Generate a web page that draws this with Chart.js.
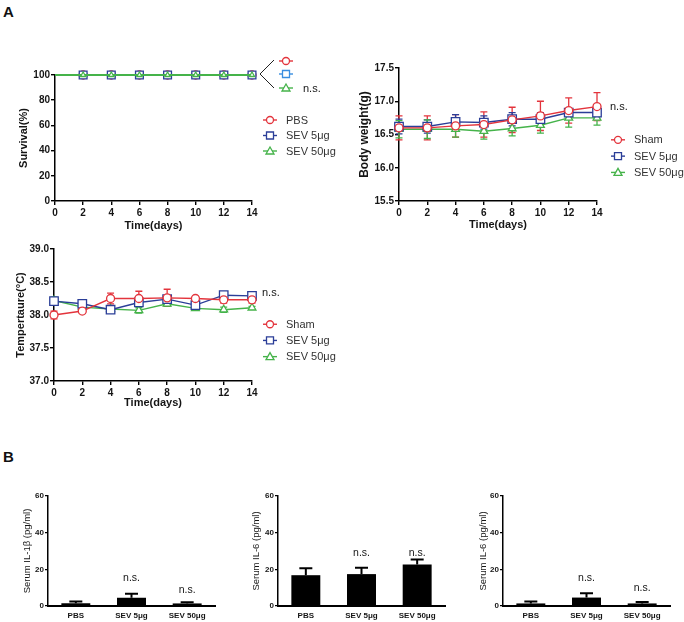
<!DOCTYPE html>
<html>
<head>
<meta charset="utf-8">
<script src="https://cdn.jsdelivr.net/npm/chart.js@4.4.0/dist/chart.umd.min.js"></script>
<style>
  body { margin: 0; background: #fff; width: 684px; height: 622px; position: relative; overflow: hidden;
         font-family: Arial, "Liberation Sans", sans-serif; }
  canvas { position: absolute; }
  .tag { position: absolute; font-weight: bold; font-size: 15px; line-height: 1; color: #111; }
</style>
</head>
<body>
<div class="tag" style="left:3px;top:4px">A</div>
<div class="tag" style="left:3px;top:449px">B</div>
<canvas id="survival"></canvas>
<canvas id="weight"></canvas>
<canvas id="temp"></canvas>
<canvas id="il1b"></canvas>
<canvas id="il6a"></canvas>
<canvas id="il6b"></canvas>
<script>
// ---- data ----
const days = [0, 2, 4, 6, 8, 10, 12, 14];

const survivalPBS = [100, 100, 100, 100, 100, 100, 100, 100];
const survival5 = [100, 100, 100, 100, 100, 100, 100, 100];
const survival50 = [100, 100, 100, 100, 100, 100, 100, 100];
const survivalTicks = [0, 20, 40, 60, 80, 100];

const weightSham = [16.60, 16.60, 16.63, 16.65, 16.72, 16.78, 16.86, 16.92];
const weightShamErr = [0.18, 0.18, 0.17, 0.19, 0.19, 0.22, 0.19, 0.21];
const weight5 = [16.62, 16.62, 16.69, 16.68, 16.73, 16.73, 16.83, 16.83];
const weight5Err = [0.11, 0.10, 0.11, 0.10, 0.10, 0.10, 0.06, 0.06];
const weight50 = [16.58, 16.58, 16.58, 16.55, 16.59, 16.64, 16.75, 16.75];
const weight50Err = [0.13, 0.14, 0.12, 0.12, 0.11, 0.12, 0.14, 0.11];
const weightTicks = [15.5, 16.0, 16.5, 17.0, 17.5];

const tempSham = [38.00, 38.06, 38.25, 38.25, 38.26, 38.25, 38.23, 38.23];
const tempShamErr = [0.06, 0.03, 0.08, 0.11, 0.13, 0.03, 0.05, 0.05];
const temp5 = [38.21, 38.17, 38.08, 38.19, 38.24, 38.15, 38.30, 38.29];
const temp5Err = [0.04, 0.03, 0.02, 0.04, 0.03, 0.04, 0.03, 0.03];
const temp50 = [38.22, 38.12, 38.09, 38.07, 38.17, 38.10, 38.08, 38.11];
const temp50Err = [0.05, 0.03, 0.03, 0.04, 0.03, 0.03, 0.04, 0.02];
const tempTicks = [37.0, 37.5, 38.0, 38.5, 39.0];

const groups = ['PBS', 'SEV 5μg', 'SEV 50μg'];
const il1bValues = [1.5, 4.5, 1.4];
const il1bErr = [0.9, 2.2, 0.7];
const il1bNs = [null, 15, 8.5];
const il6aValues = [16.8, 17.4, 22.6];
const il6aErr = [3.8, 3.5, 2.8];
const il6aNs = [null, 29, 29];
const il6bValues = [1.4, 4.6, 1.4];
const il6bErr = [1.1, 2.4, 0.8];
const il6bNs = [null, 15, 10];
const serumTicks = [0, 20, 40, 60];

// ---- style ----
const FONT = 'Arial, "Liberation Sans", sans-serif';
const RED = '#e3343c', BLUE = '#2b3e98', GREEN = '#45b34a', LIGHTBLUE = '#3a8ee0';
const INK = '#151515';

function drawMarker(ctx, style, x, y, r, color) {
  ctx.save();
  ctx.strokeStyle = color;
  ctx.fillStyle = '#fff';
  ctx.lineWidth = 1.3;
  ctx.beginPath();
  if (style === 'circle') ctx.arc(x, y, r, 0, Math.PI * 2);
  else if (style === 'rect') ctx.rect(x - r, y - r, 2 * r, 2 * r);
  else { ctx.moveTo(x, y - r); ctx.lineTo(x + r, y + r * 0.75); ctx.lineTo(x - r, y + r * 0.75); ctx.closePath(); }
  ctx.fill();
  ctx.stroke();
  ctx.restore();
}

function legendItem(ctx, cx, cy, color, style, r, text) {
  ctx.save();
  ctx.strokeStyle = color;
  ctx.lineWidth = 1.4;
  ctx.beginPath();
  ctx.moveTo(cx - 7, cy); ctx.lineTo(cx + 7, cy);
  ctx.stroke();
  drawMarker(ctx, style, cx, cy, r, color);
  if (text) {
    ctx.fillStyle = '#333';
    ctx.font = '11px ' + FONT;
    ctx.textBaseline = 'middle';
    ctx.fillText(text, cx + 16, cy + 0.5);
  }
  ctx.restore();
}

// error bars go under the markers
const errorBars = {
  id: 'errorBars',
  beforeDatasetsDraw(chart) {
    const ctx = chart.ctx;
    const y = chart.scales.y;
    chart.data.datasets.forEach((ds, i) => {
      if (!ds.errors) return;
      const meta = chart.getDatasetMeta(i);
      ctx.save();
      ctx.strokeStyle = ds.errorColor || ds.borderColor;
      ctx.lineWidth = ds.errorWidth || 1.3;
      meta.data.forEach((el, j) => {
        const e = ds.errors[j];
        if (!e) return;
        const v = typeof ds.data[j] === 'object' ? ds.data[j].y : ds.data[j];
        const top = y.getPixelForValue(v + e);
        const bot = y.getPixelForValue(ds.upOnly ? v : v - e);
        const cap = ds.capWidth || 7;
        ctx.beginPath();
        ctx.moveTo(el.x, top); ctx.lineTo(el.x, bot);
        ctx.moveTo(el.x - cap / 2, top); ctx.lineTo(el.x + cap / 2, top);
        if (!ds.upOnly) { ctx.moveTo(el.x - cap / 2, bot); ctx.lineTo(el.x + cap / 2, bot); }
        ctx.stroke();
      });
      ctx.restore();
    });
  }
};

// put the canvas so that the plot area lands on the given page rectangle
function frame(id, box, area) {
  const c = document.getElementById(id);
  c.width = box.w; c.height = box.h;
  c.style.left = box.x + 'px'; c.style.top = box.y + 'px';
  return {
    ctx: c.getContext('2d'),
    padding: { top: area.top - box.y, right: box.x + box.w - area.right, bottom: 0, left: 0 },
    yWidth: area.left - box.x,
    xHeight: box.y + box.h - area.bottom,
    yTitlePad: (px, size) => px - box.x - size * 0.6,
    xTitlePad: (py, size) => box.y + box.h - py - size * 0.6
  };
}

function series(label, values, errors, color, style, radius, order) {
  return {
    label, order, errors,
    data: days.map((d, i) => ({ x: d, y: values[i] })),
    borderColor: color, borderWidth: 1.4,
    pointStyle: style, pointRadius: radius, pointBorderWidth: 1.3,
    pointBorderColor: color, pointBackgroundColor: '#fff',
    tension: 0, clip: false
  };
}

function lineChart(id, box, area, o) {
  const f = frame(id, box, area);
  return new Chart(f.ctx, {
    type: 'line',
    data: { datasets: o.datasets },
    options: {
      responsive: false, animation: false,
      layout: { padding: f.padding },
      plugins: { legend: { display: false }, tooltip: { enabled: false } },
      scales: {
        x: {
          type: 'linear', min: 0, max: 14,
          afterBuildTicks: s => { s.ticks = days.map(v => ({ value: v })); },
          ticks: { font: { family: FONT, size: 10, weight: 'bold' }, color: INK, padding: 2 },
          grid: { drawOnChartArea: false, tickLength: 4, color: '#000', lineWidth: 1.4 },
          border: { color: '#000', width: 1.5 },
          title: { display: true, text: 'Time(days)', color: INK,
                   font: { family: FONT, size: 11, weight: 'bold' },
                   padding: { top: 0, bottom: f.xTitlePad(o.xTitleY, 11) } },
          afterFit: s => { s.height = f.xHeight; }
        },
        y: {
          type: 'linear', min: o.ticks[0], max: o.ticks[o.ticks.length - 1],
          afterBuildTicks: s => { s.ticks = o.ticks.map(v => ({ value: v })); },
          ticks: { font: { family: FONT, size: 10, weight: 'bold' }, color: INK, padding: 1,
                   callback: v => o.decimals ? v.toFixed(o.decimals) : String(v) },
          grid: { drawOnChartArea: false, tickLength: 4, color: '#000', lineWidth: 1.4 },
          border: { color: '#000', width: 1.5 },
          title: { display: true, text: o.yTitle, color: INK,
                   font: { family: FONT, size: o.yTitleSize || 11, weight: 'bold' },
                   padding: { top: f.yTitlePad(o.yTitleX, o.yTitleSize || 11), bottom: 0 } },
          afterFit: s => { s.width = f.yWidth; }
        }
      }
    },
    plugins: [errorBars, { id: 'decor', afterDraw: o.decor }]
  });
}

function drawLegend(chart, x, y0, gap, labels) {
  const styles = [['circle', 3.5, RED], ['rect', 3.5, BLUE], ['triangle', 4, GREEN]];
  labels.forEach((t, i) => legendItem(chart.ctx, x, y0 + i * gap, styles[i][2], styles[i][0], styles[i][1], t));
}

function drawNs(chart, x, y, size) {
  const ctx = chart.ctx;
  ctx.save();
  ctx.fillStyle = INK;
  ctx.font = (size || 11) + 'px ' + FONT;
  ctx.textBaseline = 'middle';
  ctx.fillText('n.s.', x, y);
  ctx.restore();
}

// ---- survival ----
lineChart('survival', { x: 0, y: 40, w: 340, h: 200 }, { left: 55, top: 75, right: 252, bottom: 201 }, {
  ticks: survivalTicks, yTitle: 'Survival(%)', yTitleX: 24, xTitleY: 226,
  datasets: [
    Object.assign(series('PBS', survivalPBS, null, RED, 'circle', 4, 3), { pointRadius: days.map(d => d ? 4 : 0) }),
    Object.assign(series('SEV 5μg', survival5, null, BLUE, 'rect', 5.5, 2), { pointRadius: days.map(d => d ? 5.5 : 0) }),
    Object.assign(series('SEV 50μg', survival50, null, GREEN, 'triangle', 3, 1), { pointRadius: days.map(d => d ? 3 : 0), borderWidth: 1.8 })
  ],
  decor: chart => {
    const ctx = chart.ctx, a = chart.chartArea;
    const yv = chart.scales.y.getPixelForValue(100);
    const vx = a.right + 8, ex = vx + 14;
    ctx.save();
    ctx.strokeStyle = '#222'; ctx.lineWidth = 1;
    ctx.beginPath();
    ctx.moveTo(ex, yv - 15); ctx.lineTo(vx, yv - 1); ctx.lineTo(ex, yv + 13);
    ctx.stroke();
    ctx.restore();
    legendItem(ctx, ex + 12, yv - 14, RED, 'circle', 3.5, null);
    legendItem(ctx, ex + 12, yv - 1, LIGHTBLUE, 'rect', 3.5, null);
    legendItem(ctx, ex + 12, yv + 13, GREEN, 'triangle', 4, null);
    drawNs(chart, ex + 29, yv + 14, 11);
    drawLegend(chart, a.right + 18, yv + 45, 15.5, ['PBS', 'SEV 5μg', 'SEV 50μg']);
  }
});

// ---- body weight ----
lineChart('weight', { x: 340, y: 40, w: 344, h: 200 }, { left: 399, top: 68, right: 597, bottom: 201 }, {
  ticks: weightTicks, decimals: 1, yTitle: 'Body weight(g)', yTitleX: 365, yTitleSize: 12, xTitleY: 225,
  datasets: [
    series('Sham', weightSham, weightShamErr, RED, 'circle', 4, 1),
    series('SEV 5μg', weight5, weight5Err, BLUE, 'rect', 6, 2),
    series('SEV 50μg', weight50, weight50Err, GREEN, 'triangle', 4.5, 3)
  ],
  decor: chart => {
    const a = chart.chartArea;
    drawNs(chart, a.right + 13, chart.scales.y.getPixelForValue(16.92), 11);
    drawLegend(chart, a.right + 21, chart.scales.y.getPixelForValue(16.42), 16.3, ['Sham', 'SEV 5μg', 'SEV 50μg']);
  }
});

// ---- temperature ----
lineChart('temp', { x: 0, y: 225, w: 340, h: 195 }, { left: 54, top: 249, right: 252, bottom: 381 }, {
  ticks: tempTicks, decimals: 1, yTitle: 'Tempertaure(°C)', yTitleX: 21, xTitleY: 403,
  datasets: [
    series('Sham', tempSham, tempShamErr, RED, 'circle', 4, 1),
    series('SEV 5μg', temp5, temp5Err, BLUE, 'rect', 6, 2),
    series('SEV 50μg', temp50, temp50Err, GREEN, 'triangle', 4.5, 3)
  ],
  decor: chart => {
    const a = chart.chartArea;
    drawNs(chart, a.right + 10, chart.scales.y.getPixelForValue(38.33), 11);
    drawLegend(chart, a.right + 18, chart.scales.y.getPixelForValue(37.86), 16.2, ['Sham', 'SEV 5μg', 'SEV 50μg']);
  }
});

// ---- serum bars ----
function barChart(id, box, area, o) {
  const f = frame(id, box, area);
  return new Chart(f.ctx, {
    type: 'bar',
    data: {
      labels: groups,
      datasets: [{ data: o.values, errors: o.errors, upOnly: true, errorColor: '#000', errorWidth: 2, capWidth: 13,
                   backgroundColor: '#000', barPercentage: 0.52, categoryPercentage: 1 }]
    },
    options: {
      responsive: false, animation: false,
      layout: { padding: f.padding },
      plugins: { legend: { display: false }, tooltip: { enabled: false } },
      scales: {
        x: {
          grid: { display: false, drawTicks: false, tickLength: 0 },
          border: { color: '#000', width: 2 },
          ticks: { font: { family: FONT, size: 8, weight: 'bold' }, color: INK, padding: 5 },
          afterFit: s => { s.height = f.xHeight; }
        },
        y: {
          min: 0, max: 60,
          afterBuildTicks: s => { s.ticks = serumTicks.map(v => ({ value: v })); },
          ticks: { font: { family: FONT, size: 8, weight: 'bold' }, color: INK, padding: 1 },
          grid: { drawOnChartArea: false, tickLength: 3, color: '#000', lineWidth: 1.3 },
          border: { color: '#000', width: 1.5 },
          title: { display: true, text: o.yTitle, color: INK,
                   font: { family: FONT, size: 9.5 },
                   padding: { top: f.yTitlePad(o.yTitleX, 9.5), bottom: 0 } },
          afterFit: s => { s.width = f.yWidth; }
        }
      }
    },
    plugins: [errorBars, {
      id: 'nsMarks',
      afterDraw: chart => {
        const meta = chart.getDatasetMeta(0);
        const ctx = chart.ctx;
        ctx.save();
        ctx.fillStyle = INK;
        ctx.font = '10.5px ' + FONT;
        ctx.textAlign = 'center';
        ctx.textBaseline = 'middle';
        o.ns.forEach((lvl, i) => {
          if (lvl == null) return;
          ctx.fillText('n.s.', meta.data[i].x, chart.scales.y.getPixelForValue(lvl));
        });
        ctx.restore();
      }
    }]
  });
}

barChart('il1b', { x: 0, y: 470, w: 230, h: 152 }, { left: 48, top: 496, right: 215, bottom: 606 },
  { values: il1bValues, errors: il1bErr, ns: il1bNs, yTitle: 'Serum IL-1β (pg/ml)', yTitleX: 27 });
barChart('il6a', { x: 230, y: 470, w: 230, h: 152 }, { left: 278, top: 496, right: 445, bottom: 606 },
  { values: il6aValues, errors: il6aErr, ns: il6aNs, yTitle: 'Serum IL-6 (pg/ml)', yTitleX: 256 });
barChart('il6b', { x: 460, y: 470, w: 224, h: 152 }, { left: 503, top: 496, right: 670, bottom: 606 },
  { values: il6bValues, errors: il6bErr, ns: il6bNs, yTitle: 'Serum IL-6 (pg/ml)', yTitleX: 483 });
</script>
</body>
</html>
